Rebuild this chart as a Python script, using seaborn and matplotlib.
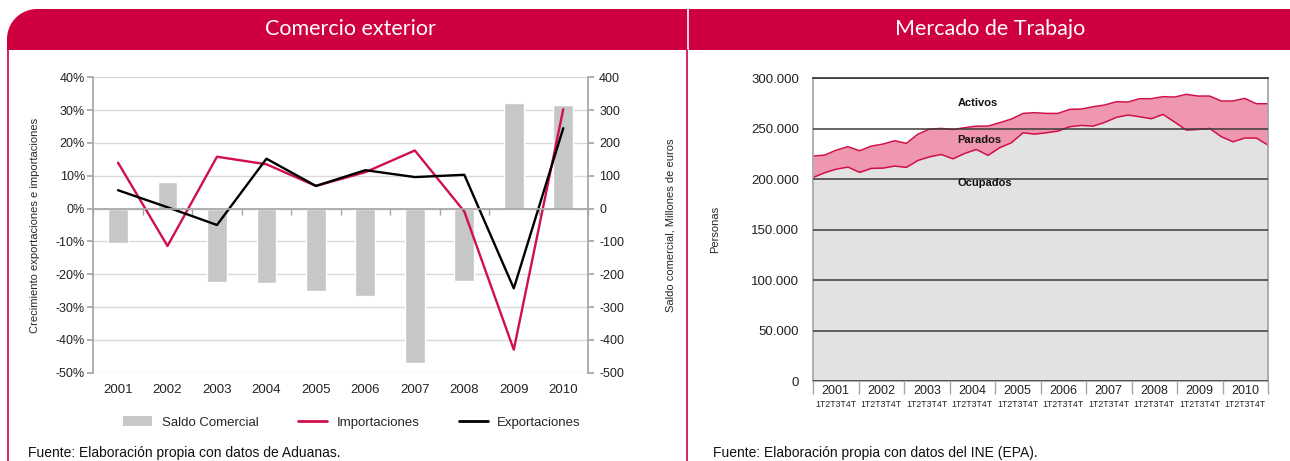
import numpy as np
import pandas as pd
import matplotlib
matplotlib.use("Agg")
import matplotlib.pyplot as plt
import matplotlib.ticker as mticker
import matplotlib.transforms as mtrans
from matplotlib.patches import Polygon, Patch
from matplotlib.lines import Line2D
import seaborn as sns

# ---------------- data ----------------
years = ["2001", "2002", "2003", "2004", "2005", "2006", "2007", "2008", "2009", "2010"]
importaciones = [14.0, -11.4, 15.8, 13.5, 6.9, 11.1, 17.7, -0.9, -43.0, 30.3]   # %
exportaciones = [5.6, 0.4, -5.0, 15.2, 6.9, 11.7, 9.6, 10.3, -24.3, 24.5]      # %
saldo = [-105, 81, -225, -228, -250, -265, -469, -222, 322, 316]              # M EUR
left_ticks = [-50, -40, -30, -20, -10, 0, 10, 20, 30, 40]
right_ticks = [-500, -400, -300, -200, -100, 0, 100, 200, 300, 400]

quarters = ["1T", "2T", "3T", "4T"]
activos = [222900, 223900, 228800, 232200, 228200, 232800, 234800, 238100, 235500, 244700,
           249700, 250300, 249300, 251000, 252600, 252600, 256000, 259600, 265200, 265900,
           265200, 265200, 269200, 269500, 271800, 273500, 276800, 276500, 279800, 279800,
           281800, 281400, 284100, 282400, 282400, 277500, 277500, 280100, 274800, 274800]
ocupados = [201700, 206400, 210000, 212000, 206700, 210700, 211000, 213000, 211700, 218600,
            222200, 224500, 220200, 225500, 229500, 223600, 231200, 236100, 246000, 244700,
            246000, 247700, 252000, 253300, 252600, 256300, 261300, 263600, 261900, 259900,
            264200, 256600, 248700, 249300, 250300, 242100, 237100, 240800, 240800, 233800]
personas_ticks = [0, 50000, 100000, 150000, 200000, 250000, 300000]

# ---------------- style ----------------
sns.set_theme(style="white")
plt.rcParams["font.family"] = ["Liberation Sans", "DejaVu Sans"]

RED = "#CF003F"
LINE_RED = "#D0104A"
PINK = "#EE97AE"
AREA_GRAY = "#E1E2E1"
BAR_GRAY = "#C6C7C8"
AX_GRAY = "#A6A6A6"

W, H = 1290, 461
fig = plt.figure(figsize=(W / 100, H / 100), dpi=100)


def fx(x):
    return x / W


def fy(y):
    return 1 - y / H


# ---------------- header band & frames ----------------
r = 30
ang = np.linspace(np.pi, np.pi / 2, 20)
arc = [(7 + r + r * np.cos(a), 9 + r - r * np.sin(a)) for a in ang]
pts = [(7, 50)] + arc + [(W, 9), (W, 50)]
fig.patches.append(Polygon([(fx(a), fy(b)) for a, b in pts], closed=True,
                           transform=fig.transFigure, facecolor=RED, edgecolor="none", zorder=0))
fig.lines.append(Line2D([fx(688), fx(688)], [fy(9), fy(50)], color="white", lw=1.2,
                        transform=fig.transFigure))
for xx in (7.5, 687.5):
    fig.lines.append(Line2D([fx(xx), fx(xx)], [fy(50), fy(H)], color=RED, lw=1.2,
                            transform=fig.transFigure))
fig.text(fx(350), fy(29), "Comercio exterior", color="white", fontsize=15.5,
         family=["Lato", "DejaVu Sans"], fontweight="normal", ha="center", va="center")
fig.text(fx(990), fy(29), "Mercado de Trabajo", color="white", fontsize=15.5,
         family=["Lato", "DejaVu Sans"], fontweight="normal", ha="center", va="center")

# ---------------- left chart ----------------
axb = fig.add_axes([fx(93.3), fy(372.7), fx(588) - fx(93.3), fy(77.3) - fy(372.7)])
df_left = pd.DataFrame({"year": years, "saldo": saldo,
                        "imp": importaciones, "exp": exportaciones})
sns.barplot(data=df_left, x="year", y="saldo", ax=axb, color=BAR_GRAY,
            saturation=1, width=0.4, errorbar=None, zorder=2)
axb.set_xlim(-0.5, len(years) - 0.5)
axb.set_ylim(right_ticks[0], right_ticks[-1])
axb.set_xlabel("")

axl = axb.twinx()
pos = np.arange(len(years))
sns.lineplot(x=pos, y=df_left["imp"], ax=axl, color=LINE_RED, lw=1.7)
sns.lineplot(x=pos, y=df_left["exp"], ax=axl, color="black", lw=1.7)
axl.set_ylim(left_ticks[0], left_ticks[-1])

# y axes: bars on right, lines on left
axb.yaxis.tick_right()
axb.yaxis.set_label_position("right")
axl.yaxis.tick_left()
axl.yaxis.set_label_position("left")
axb.set_yticks(right_ticks)
axb.set_yticklabels([str(t) for t in right_ticks])
axl.set_yticks(left_ticks)
axl.set_yticklabels([f"{t}%" for t in left_ticks])
axb.set_ylabel("Saldo comercial, Millones de euros", fontsize=8, labelpad=30)
axl.set_ylabel("Crecimiento exportaciones e importaciones", fontsize=8, labelpad=11)

axb.yaxis.grid(True, color="#D9D9D9", lw=1)
axb.set_axisbelow(True)

for ax in (axb, axl):
    ax.spines["top"].set_visible(False)
axb.spines["left"].set_visible(False)
axb.spines["bottom"].set_visible(False)
axb.spines["right"].set_color(AX_GRAY)
axl.spines["right"].set_visible(False)
axl.spines["left"].set_color(AX_GRAY)

axb.tick_params(axis="y", which="major", direction="out", length=4, color=AX_GRAY,
                pad=4, labelsize=9, colors="#222222", right=True)
axl.tick_params(axis="y", which="major", direction="out", length=4, color=AX_GRAY,
                pad=2, labelsize=9, colors="#222222", left=True)

# x: years at bottom, zero line with boundary ticks
axb.set_xticks(np.arange(-0.5, len(years), 1), minor=True)
axb.tick_params(axis="x", which="major", length=0, pad=8, labelsize=9.5, colors="#222222")
axb.tick_params(axis="x", which="minor", length=0)
axl.xaxis.set_visible(True)
axl.spines["bottom"].set_visible(True)
axl.spines["bottom"].set_position(("data", 0))
axl.spines["bottom"].set_color(AX_GRAY)
axl.tick_params(axis="x", which="major", length=0, labelbottom=False, bottom=False)
axl.tick_params(axis="x", which="minor", length=4, direction="out", color=AX_GRAY, bottom=True)

fig.legend(handles=[Patch(facecolor=BAR_GRAY, edgecolor="none", label="Saldo Comercial"),
                    Line2D([], [], color=LINE_RED, lw=2, label="Importaciones"),
                    Line2D([], [], color="black", lw=2, label="Exportaciones")],
           loc="center", bbox_to_anchor=(fx(352), fy(422.5)), ncol=3, frameon=False,
           fontsize=9.5, handlelength=2.2, handletextpad=0.7, columnspacing=3.0)

fig.text(fx(28), fy(452.5), "Fuente: Elaboración propia con datos de Aduanas.",
         fontsize=10, ha="left", va="center", color="#111111")

# ---------------- right chart ----------------
axr = fig.add_axes([fx(813), fy(381), fx(1268) - fx(813), fy(78.3) - fy(381)])
df_r = pd.DataFrame({"q": np.arange(len(activos)), "activos": activos, "ocupados": ocupados})
axr.fill_between(df_r["q"], 0, df_r["ocupados"], color=AREA_GRAY, lw=0, zorder=1)
axr.fill_between(df_r["q"], df_r["ocupados"], df_r["activos"], color=PINK, lw=0, zorder=1)
sns.lineplot(data=df_r, x="q", y="activos", ax=axr, color=LINE_RED, lw=1.1)
sns.lineplot(data=df_r, x="q", y="ocupados", ax=axr, color=LINE_RED, lw=1.1)
nq = len(activos) - 1
axr.set_xlim(0, nq)
axr.set_ylim(personas_ticks[0], personas_ticks[-1])
axr.set_yticks(personas_ticks)
axr.yaxis.set_major_formatter(mticker.FuncFormatter(lambda v, p: f"{int(v):,}".replace(",", ".")))
axr.yaxis.grid(True, color="#3A3A3A", lw=1.1)
axr.set_axisbelow(False)
axr.tick_params(axis="y", length=0, pad=10, labelsize=9.5, colors="#222222")
axr.set_ylabel("Personas", fontsize=8, labelpad=22)
axr.set_xlabel("")
for s in ("left", "right", "bottom"):
    axr.spines[s].set_color(AX_GRAY)
axr.spines["top"].set_color("#3A3A3A")

step = nq / len(years)
axr.set_xticks([(k + 0.5) * step for k in range(len(years))])
axr.set_xticklabels(years)
axr.set_xticks([k * step for k in range(len(years) + 1)], minor=True)
axr.tick_params(axis="x", which="major", length=0, pad=3, labelsize=9, colors="#222222")
axr.tick_params(axis="x", which="minor", length=9, direction="out", color=AX_GRAY, bottom=True)
trans = mtrans.blended_transform_factory(axr.transData, axr.transAxes)
for k in range(len(years)):
    axr.text((k + 0.5) * step, -0.076, "".join(quarters), transform=trans, ha="center",
             va="center", fontsize=6.3, color="#222222",
             family=["Liberation Sans Narrow", "Liberation Sans", "DejaVu Sans"])

for lab, yy in (("Activos", 103), ("Parados", 140), ("Ocupados", 183)):
    axr.text(12.4, (381 - yy) / (381 - 78.3) * personas_ticks[-1], lab, fontsize=8,
             fontweight="bold", ha="left", va="center", color="#111111")

fig.text(fx(713), fy(452.5), "Fuente: Elaboración propia con datos del INE (EPA).",
         fontsize=10, ha="left", va="center", color="#111111")

fig.savefig("out.png", dpi=100)
